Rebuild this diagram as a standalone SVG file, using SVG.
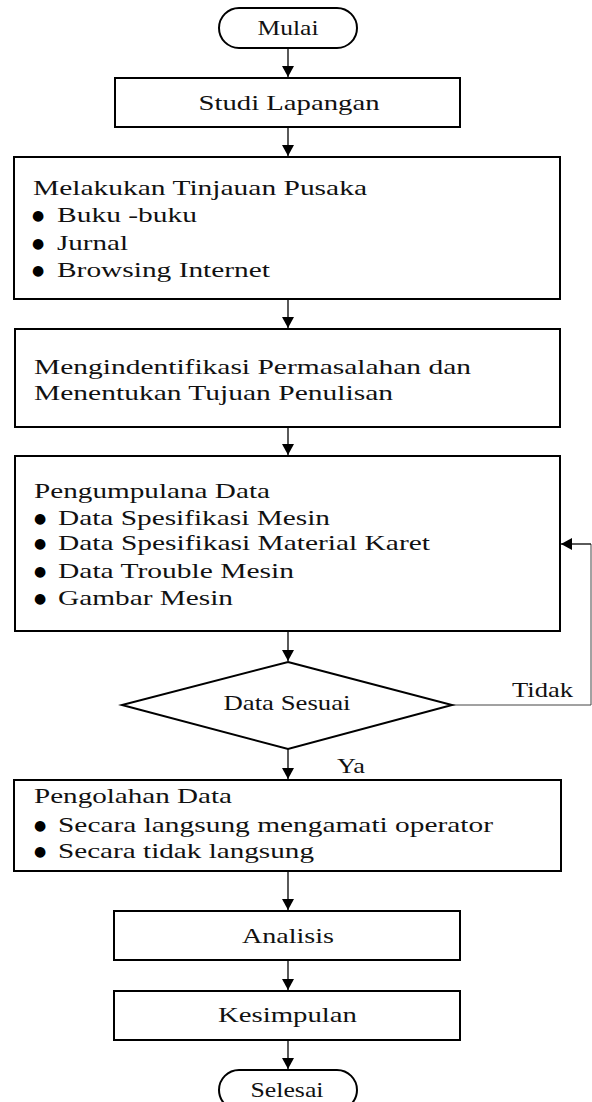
<svg xmlns="http://www.w3.org/2000/svg" width="592" height="1102" viewBox="0 0 592 1102">
<style>
.box{fill:#fff;stroke:#000;stroke-width:2}
.t{font-family:"Liberation Serif","Times New Roman",serif;font-size:22px;fill:#111}
.c{text-anchor:middle}
.b{font-family:"DejaVu Sans",sans-serif;font-size:14px;fill:#000}
.ln{fill:none;stroke:#000;stroke-width:1.3}
.thin{fill:none;stroke:#444;stroke-width:1}
</style>
<defs>
<marker id="ah" markerUnits="userSpaceOnUse" markerWidth="12" markerHeight="12" viewBox="0 0 12 12" refX="11" refY="6" orient="auto">
<path d="M0,0 L11,6 L0,12 Z" fill="#000"/>
</marker>
</defs>
<rect width="592" height="1102" fill="#fff"/>
<g id="connectors">
<line class="ln" x1="288" y1="48" x2="288" y2="77" marker-end="url(#ah)"/>
<line class="ln" x1="288" y1="127" x2="288" y2="156" marker-end="url(#ah)"/>
<line class="ln" x1="288" y1="299" x2="288" y2="328" marker-end="url(#ah)"/>
<line class="ln" x1="288" y1="427" x2="288" y2="455" marker-end="url(#ah)"/>
<line class="ln" x1="288" y1="631" x2="288" y2="661" marker-end="url(#ah)"/>
<line class="ln" x1="288" y1="749" x2="288" y2="779" marker-end="url(#ah)"/>
<line class="ln" x1="288" y1="871" x2="288" y2="910" marker-end="url(#ah)"/>
<line class="ln" x1="288" y1="960" x2="288" y2="990" marker-end="url(#ah)"/>
<line class="ln" x1="288" y1="1040" x2="288" y2="1069" marker-end="url(#ah)"/>
<polyline class="thin" points="452,705 591,705 591,544"/>
<line class="ln" x1="591" y1="544" x2="561" y2="544" marker-end="url(#ah)"/>
<text class="t" x="512" y="697" textLength="61" lengthAdjust="spacingAndGlyphs">Tidak</text>
<text class="t" x="337" y="773" textLength="28" lengthAdjust="spacingAndGlyphs">Ya</text>
</g>
<g id="mulai">
<rect class="box" x="219" y="8" width="138" height="40" rx="20" ry="20"/>
<text class="t c" x="288" y="35" textLength="61" lengthAdjust="spacingAndGlyphs">Mulai</text>
</g>
<g id="studi">
<rect class="box" x="115" y="78" width="345" height="49"/>
<text class="t c" x="289" y="110" textLength="181" lengthAdjust="spacingAndGlyphs">Studi Lapangan</text>
</g>
<g id="tinjauan">
<rect class="box" x="14" y="157" width="546" height="142"/>
<text class="t" x="33" y="195" textLength="334" lengthAdjust="spacingAndGlyphs">Melakukan Tinjauan Pusaka</text>
<text class="b" x="32" y="220">●</text>
<text class="t" x="57" y="222" textLength="140" lengthAdjust="spacingAndGlyphs">Buku -buku</text>
<text class="b" x="32" y="248">●</text>
<text class="t" x="57" y="250" textLength="71" lengthAdjust="spacingAndGlyphs">Jurnal</text>
<text class="b" x="32" y="275">●</text>
<text class="t" x="57" y="277" textLength="213" lengthAdjust="spacingAndGlyphs">Browsing Internet</text>
</g>
<g id="identifikasi">
<rect class="box" x="15" y="329" width="545" height="98"/>
<text class="t" x="34" y="374" textLength="437" lengthAdjust="spacingAndGlyphs">Mengindentifikasi  Permasalahan dan</text>
<text class="t" x="34" y="400" textLength="359" lengthAdjust="spacingAndGlyphs">Menentukan Tujuan Penulisan</text>
</g>
<g id="pengumpulan">
<rect class="box" x="15" y="456" width="545" height="175"/>
<text class="t" x="34" y="498" textLength="236" lengthAdjust="spacingAndGlyphs">Pengumpulana Data</text>
<text class="b" x="34" y="523">●</text>
<text class="t" x="58" y="525" textLength="272" lengthAdjust="spacingAndGlyphs">Data Spesifikasi Mesin</text>
<text class="b" x="34" y="548">●</text>
<text class="t" x="58" y="550" textLength="372" lengthAdjust="spacingAndGlyphs">Data Spesifikasi Material Karet</text>
<text class="b" x="34" y="576">●</text>
<text class="t" x="58" y="578" textLength="236" lengthAdjust="spacingAndGlyphs">Data Trouble Mesin</text>
<text class="b" x="34" y="603">●</text>
<text class="t" x="58" y="605" textLength="175" lengthAdjust="spacingAndGlyphs">Gambar Mesin</text>
</g>
<g id="sesuai">
<polygon class="box" points="288,662 452,705 288,749 122,705"/>
<text class="t c" x="287" y="710" textLength="127" lengthAdjust="spacingAndGlyphs">Data Sesuai</text>
</g>
<g id="pengolahan">
<rect class="box" x="14" y="780" width="547" height="91"/>
<text class="t" x="34" y="803" textLength="198" lengthAdjust="spacingAndGlyphs">Pengolahan Data</text>
<text class="b" x="34" y="830">●</text>
<text class="t" x="58" y="832" textLength="435" lengthAdjust="spacingAndGlyphs">Secara langsung mengamati operator</text>
<text class="b" x="34" y="856">●</text>
<text class="t" x="58" y="858" textLength="256" lengthAdjust="spacingAndGlyphs">Secara tidak langsung</text>
</g>
<g id="analisis">
<rect class="box" x="114" y="911" width="346" height="49"/>
<text class="t c" x="288" y="943" textLength="92" lengthAdjust="spacingAndGlyphs">Analisis</text>
</g>
<g id="kesimpulan">
<rect class="box" x="114" y="991" width="346" height="49"/>
<text class="t c" x="287.5" y="1022" textLength="139" lengthAdjust="spacingAndGlyphs">Kesimpulan</text>
</g>
<g id="selesai">
<rect class="box" x="219" y="1070" width="138" height="40" rx="20" ry="20"/>
<text class="t c" x="287" y="1097" textLength="73" lengthAdjust="spacingAndGlyphs">Selesai</text>
</g>
</svg>
